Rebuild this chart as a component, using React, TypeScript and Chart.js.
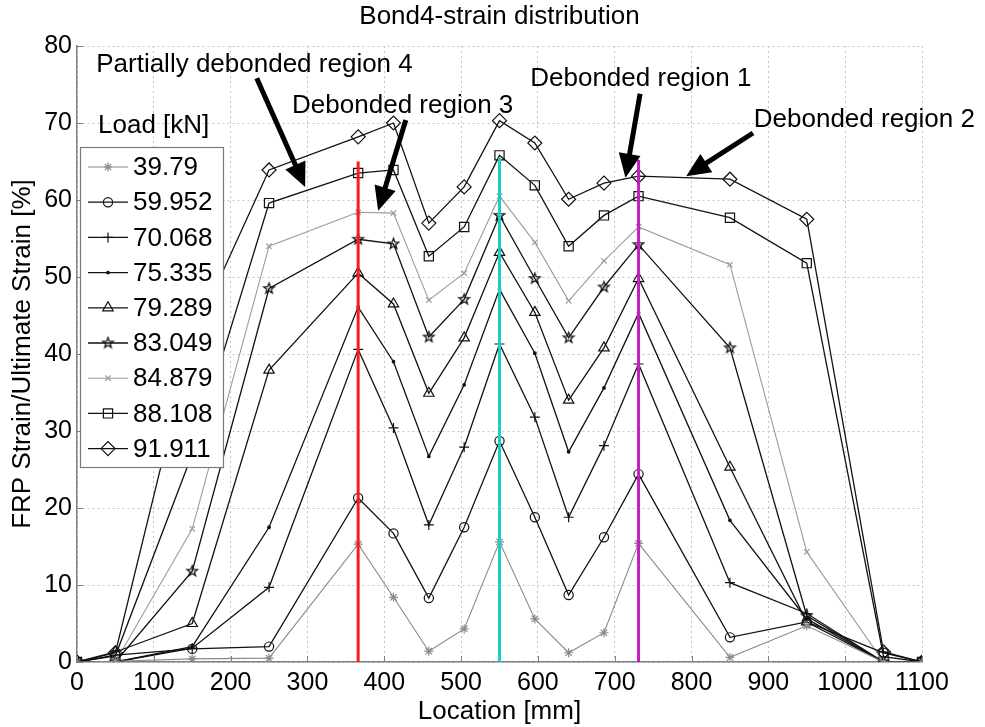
import React, { useEffect, useRef } from 'react';
import { Chart, registerables } from 'chart.js';
import { drawPoint } from 'chart.js/helpers';

Chart.register(...registerables);

// ---------------- data ----------------
const locations = [0, 50, 150, 250, 366, 412, 458, 504, 550, 596, 640, 686, 731, 850, 950, 1050, 1100];

const loadLabels = ['39.79', '59.952', '70.068', '75.335', '79.289', '83.049', '84.879', '88.108', '91.911'];

const load39_79 = [0, 0.1, 0.4, 0.5, 15.3, 8.4, 1.4, 4.3, 15.6, 5.6, 1.2, 3.8, 15.4, 0.6, 4.7, 0, 0];
const load59_952 = [0, 0.9, 1.7, 2.0, 21.3, 16.7, 8.3, 17.5, 28.7, 18.8, 8.7, 16.2, 24.4, 3.2, 5.2, 1.2, 0];
const load70_068 = [0, 0, 1.8, 9.7, 40.6, 30.4, 17.8, 27.9, 41.3, 31.8, 18.8, 28.1, 38.7, 10.3, 6.3, 0, 0];
const load75_335 = [0, 0, 2.0, 17.5, 46.1, 39.0, 26.7, 36.0, 48.4, 40.1, 27.3, 35.6, 45.3, 18.4, 5.6, 0, 0];
const load79_289 = [0, 1.3, 5.0, 37.9, 50.5, 46.5, 34.9, 42.1, 53.2, 45.4, 34.0, 40.8, 49.8, 25.3, 5.2, 0, 0];
const load83_049 = [0, 0, 11.8, 48.5, 54.9, 54.3, 42.2, 47.1, 58.0, 49.8, 42.1, 48.7, 54.2, 40.8, 6.0, 0, 0];
const load84_879 = [0, 0, 17.3, 54.0, 58.4, 58.3, 47.0, 50.5, 60.5, 54.5, 46.9, 52.1, 56.5, 51.6, 14.3, 0, 0];
const load88_108 = [0, 0.8, 27.0, 59.6, 63.5, 63.9, 52.7, 56.5, 65.8, 61.9, 54.0, 58.0, 60.5, 57.7, 51.8, 0.7, 0];
const load91_911 = [0, 1.2, 42.0, 63.9, 68.2, 70.0, 57.0, 61.7, 70.3, 67.4, 60.1, 62.2, 63.1, 62.7, 57.5, 1.3, 0];

const seriesValues = [load39_79, load59_952, load70_068, load75_335, load79_289, load83_049, load84_879, load88_108, load91_911];

// debonded region marker lines (location, top value)
const regionX = [366, 550, 731];
const regionTop = [65, 65.5, 65.2];

// annotations (data units)
const annotationTexts = ['Partially debonded region 4', 'Debonded region 3', 'Debonded region 1', 'Debonded region 2'];
const annotationX = [25, 280, 734, 881];
const annotationY = [76.6, 71.3, 74.8, 69.5];
const annotationAlign = ['left', 'left', 'center', 'left'];
const arrowStartX = [234, 428, 733, 880];
const arrowStartY = [75.8, 70.4, 73.8, 68.7];
const arrowEndX = [297, 392, 714, 793];
const arrowEndY = [61.7, 58.6, 62.9, 63.1];

const titleText = 'Bond4-strain distribution';
const xTitle = 'Location [mm]';
const yTitle = 'FRP Strain/Ultimate Strain [%]';
const legendTitle = 'Load [kN]';

// ---------------- styles ----------------
const FONT = '"Liberation Sans", Arial, Helvetica, sans-serif';
const regionColors = ['#ff1a1a', '#1ecccc', '#c41ec4'];

function makePentagram(r: number, color: string): HTMLCanvasElement {
  const size = Math.ceil(r * 2 + 4);
  const c = document.createElement('canvas');
  c.width = size;
  c.height = size;
  const ctx = c.getContext('2d')!;
  ctx.strokeStyle = color;
  ctx.lineWidth = 1.3;
  ctx.beginPath();
  for (let i = 0; i < 10; i++) {
    const ang = -Math.PI / 2 + (i * Math.PI) / 5;
    const rr = i % 2 === 0 ? r : r * 0.42;
    const px = size / 2 + rr * Math.cos(ang);
    const py = size / 2 + rr * Math.sin(ang);
    if (i === 0) ctx.moveTo(px, py);
    else ctx.lineTo(px, py);
  }
  ctx.closePath();
  ctx.stroke();
  return c;
}

type SeriesStyle = { color: string; width: number; point: any; radius: number; fill: string };

function buildStyles(): SeriesStyle[] {
  const clear = 'rgba(0,0,0,0)';
  return [
    { color: '#8a8a8a', width: 1.1, point: 'star', radius: 4.5, fill: clear },
    { color: '#111111', width: 1.3, point: 'circle', radius: 4.6, fill: clear },
    { color: '#111111', width: 1.3, point: 'cross', radius: 5, fill: clear },
    { color: '#111111', width: 1.3, point: 'circle', radius: 1.3, fill: '#111111' },
    { color: '#111111', width: 1.3, point: 'triangle', radius: 6, fill: clear },
    { color: '#111111', width: 1.3, point: makePentagram(5.5, '#111111'), radius: 5.5, fill: clear },
    { color: '#9c9c9c', width: 1.1, point: 'crossRot', radius: 3.8, fill: clear },
    { color: '#111111', width: 1.3, point: 'rect', radius: 6.5, fill: clear },
    { color: '#111111', width: 1.3, point: 'rectRot', radius: 7, fill: clear },
  ];
}

function drawArrow(ctx: CanvasRenderingContext2D, x1: number, y1: number, x2: number, y2: number) {
  const ang = Math.atan2(y2 - y1, x2 - x1);
  const headLen = 24;
  const headHalf = 11;
  const bx = x2 - headLen * Math.cos(ang);
  const by = y2 - headLen * Math.sin(ang);
  ctx.save();
  ctx.strokeStyle = '#000';
  ctx.fillStyle = '#000';
  ctx.lineWidth = 5;
  ctx.lineCap = 'butt';
  ctx.beginPath();
  ctx.moveTo(x1, y1);
  ctx.lineTo(bx + 2 * Math.cos(ang), by + 2 * Math.sin(ang));
  ctx.stroke();
  const px = -Math.sin(ang);
  const py = Math.cos(ang);
  ctx.beginPath();
  ctx.moveTo(x2, y2);
  ctx.lineTo(bx + px * headHalf, by + py * headHalf);
  ctx.lineTo(bx - px * headHalf, by - py * headHalf);
  ctx.closePath();
  ctx.fill();
  ctx.restore();
}

export default function App() {
  const canvasRef = useRef<HTMLCanvasElement | null>(null);

  useEffect(() => {
    if (!canvasRef.current) return;
    const styles = buildStyles();

    const regionSets = regionX.map((x, i) => ({
      label: 'region' + i,
      data: [
        { x, y: 0 },
        { x, y: regionTop[i] },
      ],
      borderColor: regionColors[i],
      borderWidth: 3,
      pointRadius: 0,
      order: 0,
    }));

    const seriesSets = seriesValues.map((vals, i) => ({
      label: loadLabels[i],
      data: locations.map((x, k) => ({ x, y: vals[k] })),
      borderColor: styles[i].color,
      borderWidth: styles[i].width,
      pointStyle: styles[i].point,
      pointRadius: styles[i].radius,
      pointHoverRadius: styles[i].radius,
      pointBorderColor: styles[i].color,
      pointBackgroundColor: styles[i].fill,
      pointBorderWidth: 1.2,
      tension: 0,
      order: 1,
    }));

    const annotationPlugin = {
      id: 'annot',
      afterDatasetsDraw(chart: any) {
        const { ctx, scales } = chart;
        const xs = scales.x;
        const ys = scales.y;
        ctx.save();
        // inward ticks
        ctx.strokeStyle = '#808080';
        ctx.lineWidth = 1;
        const ca = chart.chartArea;
        xs.ticks.forEach((t: any) => {
          const px = Math.round(xs.getPixelForValue(t.value)) + 0.5;
          ctx.beginPath();
          ctx.moveTo(px, ca.bottom);
          ctx.lineTo(px, ca.bottom - 6);
          ctx.stroke();
        });
        ys.ticks.forEach((t: any) => {
          const py = Math.round(ys.getPixelForValue(t.value)) + 0.5;
          ctx.beginPath();
          ctx.moveTo(ca.left, py);
          ctx.lineTo(ca.left + 6, py);
          ctx.stroke();
        });
        // arrows
        for (let i = 0; i < arrowStartX.length; i++) {
          drawArrow(
            ctx,
            xs.getPixelForValue(arrowStartX[i]),
            ys.getPixelForValue(arrowStartY[i]),
            xs.getPixelForValue(arrowEndX[i]),
            ys.getPixelForValue(arrowEndY[i])
          );
        }
        // texts
        ctx.fillStyle = '#000';
        ctx.font = `26px ${FONT}`;
        ctx.textBaseline = 'alphabetic';
        annotationTexts.forEach((txt, i) => {
          ctx.textAlign = annotationAlign[i] as CanvasTextAlign;
          ctx.fillText(txt, xs.getPixelForValue(annotationX[i]), ys.getPixelForValue(annotationY[i]));
        });
        ctx.restore();
      },
      afterDraw(chart: any) {
        const { ctx } = chart;
        const boxL = 80, boxT = 147, boxR = 223, boxB = 467;
        ctx.save();
        ctx.fillStyle = '#fff';
        ctx.fillRect(boxL, boxT, boxR - boxL, boxB - boxT);
        ctx.strokeStyle = '#7a7a7a';
        ctx.lineWidth = 1.2;
        ctx.strokeRect(boxL + 0.5, boxT + 0.5, boxR - boxL, boxB - boxT);
        ctx.fillStyle = '#000';
        ctx.font = `26px ${FONT}`;
        ctx.textAlign = 'left';
        ctx.textBaseline = 'alphabetic';
        ctx.fillText(legendTitle, 98, 133);
        const y0 = 167;
        const dy = 35.2;
        loadLabels.forEach((lab, i) => {
          const y = y0 + i * dy;
          const st = styles[i];
          ctx.strokeStyle = st.color;
          ctx.lineWidth = st.width;
          ctx.beginPath();
          ctx.moveTo(88, y);
          ctx.lineTo(128, y);
          ctx.stroke();
          ctx.fillStyle = st.fill;
          ctx.strokeStyle = st.color;
          ctx.lineWidth = 1.2;
          drawPoint(ctx, { pointStyle: st.point, radius: st.radius, rotation: 0, borderWidth: 1.2 } as any, 108, y);
          ctx.fillStyle = '#000';
          ctx.textBaseline = 'middle';
          ctx.fillText(lab, 133, y + 1);
        });
        ctx.restore();
      },
    };

    const gridOpts = { color: '#c4c4c4', lineWidth: 1, drawTicks: false };
    const borderOpts = { display: true, color: '#808080', width: 1.5, dash: [2, 3] };

    const chart = new Chart(canvasRef.current, {
      type: 'line',
      data: { datasets: [...regionSets, ...seriesSets] as any },
      options: {
        responsive: false,
        animation: false,
        events: [],
        layout: { padding: { left: 0, right: 63, top: 0, bottom: 0 } },
        plugins: {
          legend: { display: false },
          tooltip: { enabled: false },
          title: {
            display: true,
            text: titleText,
            fullSize: false,
            color: '#000',
            font: { family: FONT, size: 26, weight: 'normal', lineHeight: 1.2 },
            padding: { top: 1, bottom: 13.8 },
          },
        },
        scales: {
          x: {
            type: 'linear',
            min: 0,
            max: 1100,
            ticks: {
              stepSize: 100,
              color: '#000',
              font: { family: FONT, size: 25 },
              padding: 6,
              maxRotation: 0,
              callback: (v: any) => String(v),
            },
            grid: gridOpts,
            border: borderOpts,
            title: { display: true, text: xTitle, color: '#000', font: { family: FONT, size: 26 }, padding: { top: 0, bottom: 0 } },
            afterFit: (s: any) => {
              s.height = 65;
            },
          },
          y: {
            type: 'linear',
            min: 0,
            max: 80,
            ticks: { stepSize: 10, color: '#000', font: { family: FONT, size: 25 }, padding: 5, callback: (v: any) => String(v) },
            grid: gridOpts,
            border: borderOpts,
            title: { display: true, text: yTitle, color: '#000', font: { family: FONT, size: 26 }, padding: { top: 7, bottom: 0 } },
            afterFit: (s: any) => {
              s.width = 77;
            },
          },
        },
      } as any,
      plugins: [annotationPlugin],
    });

    return () => {
      chart.destroy();
    };
  }, []);

  return (
    <div style={{ position: 'fixed', left: 0, top: 0, width: 985, height: 727, background: '#fff' }}>
      <canvas ref={canvasRef} width={985} height={727} style={{ display: 'block' }} />
    </div>
  );
}
